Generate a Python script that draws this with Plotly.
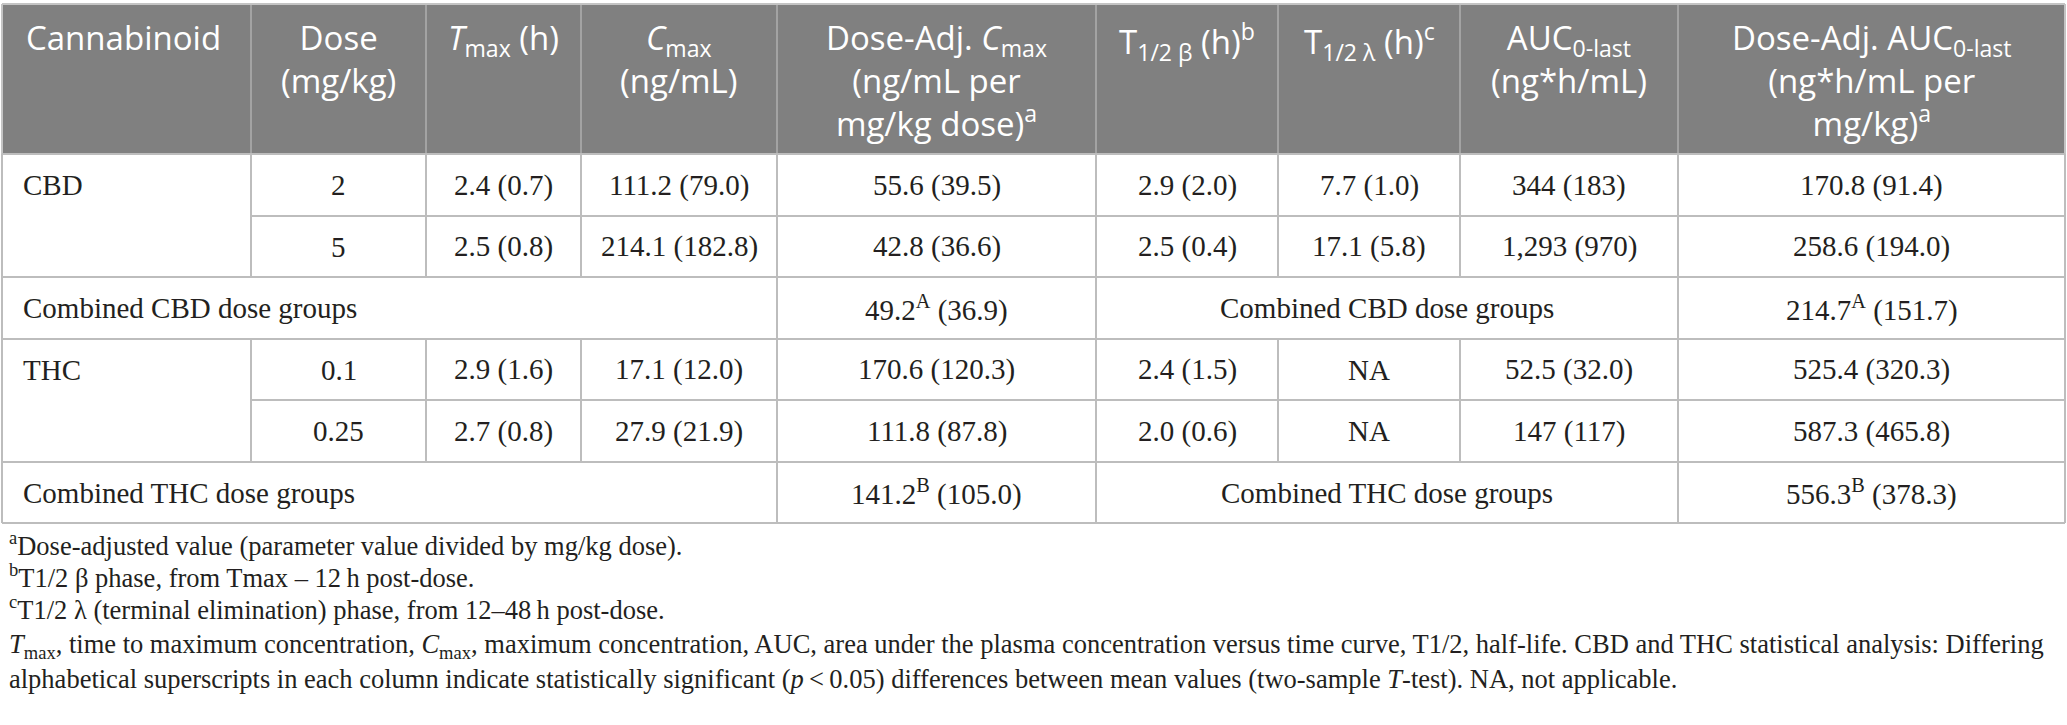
import plotly.graph_objects as go

# ---- table content ----
header_lines = [
    ["Cannabinoid"],
    ["Dose", "(mg/kg)"],
    ["<i>T</i><sub>max</sub> (h)"],
    ["<i>C</i><sub>max</sub>", "(ng/mL)"],
    ["Dose-Adj. <i>C</i><sub>max</sub>", "(ng/mL per", "mg/kg dose)<sup>a</sup>"],
    ["T<sub>1/2 β</sub> (h)<sup>b</sup>"],
    ["T<sub>1/2 λ</sub> (h)<sup>c</sup>"],
    ["AUC<sub>0-last</sub>", "(ng*h/mL)"],
    ["Dose-Adj. AUC<sub>0-last</sub>", "(ng*h/mL per", "mg/kg)<sup>a</sup>"],
]

cannabinoids = ["CBD", "THC"]
doses = [["2", "5"], ["0.1", "0.25"]]
tmax = [["2.4 (0.7)", "2.5 (0.8)"], ["2.9 (1.6)", "2.7 (0.8)"]]
cmax = [["111.2 (79.0)", "214.1 (182.8)"], ["17.1 (12.0)", "27.9 (21.9)"]]
dose_adj_cmax = [["55.6 (39.5)", "42.8 (36.6)"], ["170.6 (120.3)", "111.8 (87.8)"]]
t_half_beta = [["2.9 (2.0)", "2.5 (0.4)"], ["2.4 (1.5)", "2.0 (0.6)"]]
t_half_lambda = [["7.7 (1.0)", "17.1 (5.8)"], ["NA", "NA"]]
auc = [["344 (183)", "1,293 (970)"], ["52.5 (32.0)", "147 (117)"]]
dose_adj_auc = [["170.8 (91.4)", "258.6 (194.0)"], ["525.4 (320.3)", "587.3 (465.8)"]]

combined_labels = ["Combined CBD dose groups", "Combined THC dose groups"]
combined_cmax = ["49.2<sup>A</sup> (36.9)", "141.2<sup>B</sup> (105.0)"]
combined_auc = ["214.7<sup>A</sup> (151.7)", "556.3<sup>B</sup> (378.3)"]

footnotes = [
    "<sup>a</sup>Dose-adjusted value (parameter value divided by mg/kg dose).",
    "<sup>b</sup>T1/2 β phase, from Tmax – 12\u2009h post-dose.",
    "<sup>c</sup>T1/2 λ (terminal elimination) phase, from 12–48\u2009h post-dose.",
    "<i>T</i><sub>max</sub>, time to maximum concentration, <i>C</i><sub>max</sub>, maximum concentration, "
    "AUC, area under the plasma concentration versus time curve, T1/2, half-life. "
    "CBD and THC statistical analysis: Differing",
    "alphabetical superscripts in each column indicate statistically significant "
    "(<i>p</i>\u2009<\u20090.05) differences between mean values (two-sample <i>T</i>-test). NA, not applicable.",
]

# ---- layout geometry (page pixels) ----
W, H = 2067, 725
col_edges = [2, 251, 426, 581, 777, 1096, 1278, 1460, 1678, 2065]
table_top = 4
row_edges = [154, 216, 277, 339, 400, 462, 523]
header_text_top = 13
footnote_y = [544, 576, 608, 646, 679]

HEADER_BG = "#808080"
HEADER_RULE = "#a3a3a3"
GRID = "#bdbdbd"
TEXT = "#231f20"
header_font = dict(family="Open Sans", size=33, color="white")
body_font = dict(family="Liberation Serif", size=29, color=TEXT)
note_font = dict(family="Liberation Serif", size=26.5, color=TEXT)

fig = go.Figure()
shapes = []
annotations = []


def line(x0, y0, x1, y1, color=GRID, width=2):
    shapes.append(dict(type="line", xref="x", yref="y", x0=x0, y0=y0, x1=x1, y1=y1,
                       line=dict(color=color, width=width)))


def text(x, y, s, font, anchor="center", yanchor="middle"):
    annotations.append(dict(x=x, y=y, xref="x", yref="y", text=s, showarrow=False,
                            xanchor=anchor, yanchor=yanchor, align=anchor,
                            font=font))


def col_mid(i, j=None):
    j = i if j is None else j
    return (col_edges[i] + col_edges[j + 1]) / 2


# header block
shapes.append(dict(type="rect", xref="x", yref="y", x0=col_edges[0], x1=col_edges[-1],
                   y0=table_top, y1=row_edges[0], fillcolor=HEADER_BG, line=dict(width=0),
                   layer="below"))
for x in col_edges[1:-1]:
    line(x, table_top, x, row_edges[0], color=HEADER_RULE)
line(col_edges[0], table_top, col_edges[-1], table_top, color="#c4c4c4")
line(col_edges[0], table_top, col_edges[0], row_edges[0], color="#c4c4c4")
line(col_edges[-1], table_top, col_edges[-1], row_edges[0], color="#c4c4c4")

for c, lines in enumerate(header_lines):
    label = "<br>".join(lines)
    if c == 0:
        text(col_edges[0] + 22, header_text_top, label, header_font, "left", "top")
    else:
        text(col_mid(c), header_text_top, label, header_font, "center", "top")

# body
line(col_edges[0], row_edges[0], col_edges[-1], row_edges[0])
line(col_edges[0], row_edges[0], col_edges[0], row_edges[-1])
line(col_edges[-1], row_edges[0], col_edges[-1], row_edges[-1])

columns = [doses, tmax, cmax, dose_adj_cmax, t_half_beta, t_half_lambda, auc, dose_adj_auc]
for g, name in enumerate(cannabinoids):
    r0, r1, r2, r3 = row_edges[3 * g:3 * g + 4]
    line(col_edges[1], r1, col_edges[-1], r1)
    line(col_edges[0], r2, col_edges[-1], r2)
    line(col_edges[0], r3, col_edges[-1], r3)
    for x in col_edges[1:-1]:
        line(x, r0, x, r2)
    for x in (col_edges[4], col_edges[5], col_edges[8]):
        line(x, r2, x, r3)

    text(col_edges[0] + 19, (r0 + r1) / 2, name, body_font, "left")
    for k, (ya, yb) in enumerate([(r0, r1), (r1, r2)]):
        for c, values in enumerate(columns, start=1):
            text(col_mid(c), (ya + yb) / 2, values[g][k], body_font)

    ym = (r2 + r3) / 2
    text(col_edges[0] + 19, ym, combined_labels[g], body_font, "left")
    text(col_mid(4), ym, combined_cmax[g], body_font)
    text(col_mid(5, 7), ym, combined_labels[g], body_font)
    text(col_mid(8), ym, combined_auc[g], body_font)

for y, s in zip(footnote_y, footnotes):
    text(7, y, s, note_font, "left")

fig.update_layout(
    width=W,
    height=H,
    margin=dict(l=0, r=0, t=0, b=0),
    paper_bgcolor="white",
    plot_bgcolor="white",
    showlegend=False,
    xaxis=dict(range=[0, W], visible=False, fixedrange=True),
    yaxis=dict(range=[H, 0], visible=False, fixedrange=True),
    shapes=shapes,
    annotations=annotations,
)

fig.write_html(
    "out.html",
    config={"displayModeBar": False},
    post_script="document.body.style.margin='0';document.body.style.overflow='hidden';",
)
